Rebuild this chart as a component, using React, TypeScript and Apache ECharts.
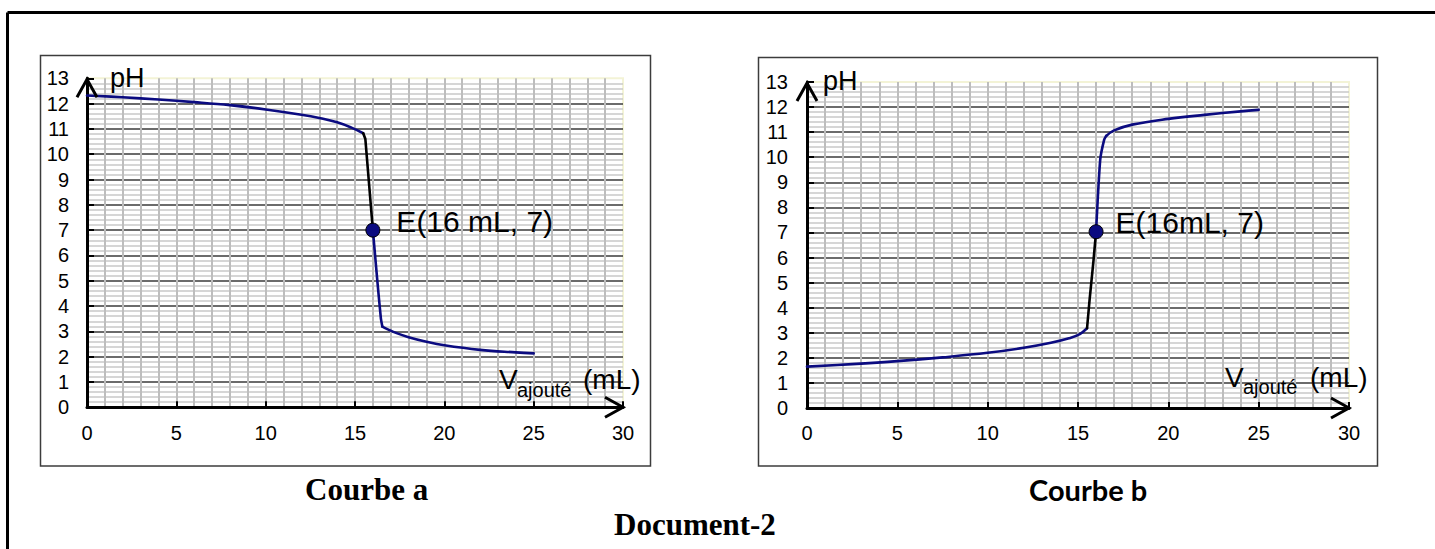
import React, { useEffect, useRef } from "react";
import * as echarts from "echarts";

// ---- data ----
const X_MIN = 0;
const X_MAX = 30;
const X_STEP = 5;
const Y_MIN = 0;
const Y_MAX = 13;
const Y_STEP = 1;

// Courbe a : pH decreasing
const curveA_before: number[][] = [
  [0, 12.32], [2, 12.25], [4, 12.16], [6, 12.06], [8, 11.94], [10, 11.77], [12, 11.56],
  [13, 11.43], [14, 11.26], [14.8, 11.05], [15.46, 10.83],
];
const curveA_steep: number[][] = [[15.46, 10.83], [15.58, 10.6], [16, 7]];
const curveA_drop: number[][] = [[16, 7], [16.25, 5.0], [16.45, 3.5], [16.53, 3.19]];
const curveA_after: number[][] = [
  [16.53, 3.19], [16.87, 3.07], [17.33, 2.93], [18, 2.77],
  [19, 2.59], [20, 2.45], [22, 2.27], [24, 2.17], [25, 2.13],
];
const pointA: number[][] = [[16, 7]];
const labelA = "E(16 mL, 7)";

// Courbe b : pH increasing
const curveB_before: number[][] = [
  [0, 1.65], [2.5, 1.75], [5, 1.87], [7.5, 2.02], [10, 2.2], [12, 2.4], [13.5, 2.6],
  [14.5, 2.78], [15.1, 2.95], [15.5, 3.18],
];
const curveB_steep: number[][] = [[15.5, 3.18], [15.64, 4.3], [15.86, 5.9], [16, 7.03]];
const curveB_rise: number[][] = [[16, 7.03], [16.23, 9.9], [16.45, 10.7], [16.56, 10.85]];
const curveB_after: number[][] = [
  [16.56, 10.85], [17, 11.07], [18, 11.3], [20, 11.53],
  [22, 11.69], [24, 11.83], [25, 11.89],
];
const pointB: number[][] = [[16, 7.03]];
const labelB = "E(16mL, 7)";

const yName = "pH";
const xNameMain = "V";
const xNameSub = "ajouté";
const xNameUnit = "(mL)";
const titleA = "Courbe a";
const titleB = "Courbe b";
const docTitle = "Document-2";

// ---- styles ----
const SANS = "'Liberation Sans', Arial, sans-serif";
const SERIF = "'Liberation Serif', 'Times New Roman', serif";
const BLUE = "#0b0b80";

function axesFor(idx: number, yLabelMargin: number, xLabelMargin: number) {
  const xAxis = {
    type: "value",
    gridIndex: idx,
    min: X_MIN,
    max: X_MAX,
    interval: X_STEP,
    axisLine: { show: true, onZero: false, lineStyle: { color: "#000", width: 3 } },
    axisTick: { show: true, inside: true, length: 6, lineStyle: { color: "#000", width: 2 } },
    axisLabel: { color: "#000", fontSize: 20, fontFamily: SANS, margin: xLabelMargin },
    splitLine: { show: true, showMinLine: false, showMaxLine: false, lineStyle: { color: "#bdbdbd", width: 2 } },
    minorTick: { show: false, splitNumber: 5 },
    minorSplitLine: { show: true, lineStyle: { color: "#bdbdbd", width: 2 } },
  };
  const yAxis = {
    type: "value",
    gridIndex: idx,
    min: Y_MIN,
    max: Y_MAX,
    interval: Y_STEP,
    axisLine: { show: true, onZero: false, lineStyle: { color: "#000", width: 3 } },
    axisTick: { show: true, inside: true, length: 7, lineStyle: { color: "#000", width: 2 } },
    axisLabel: { color: "#000", fontSize: 20, fontFamily: SANS, margin: yLabelMargin },
    splitLine: { show: true, showMinLine: false, showMaxLine: false, lineStyle: { color: "#3a3a3a", width: 1.5 } },
    minorTick: { show: false, splitNumber: 5 },
    minorSplitLine: { show: true, lineStyle: { color: "#c8c8c8", width: 1.5 } },
  };
  return { xAxis, yAxis };
}

function lineSeries(idx: number, data: number[][], color: string, smooth: number | boolean) {
  return {
    type: "line",
    xAxisIndex: idx,
    yAxisIndex: idx,
    data,
    showSymbol: false,
    symbol: "none",
    smooth,
    lineStyle: { color, width: 2.6, join: "round", cap: "round" },
    z: 3,
    silent: true,
  };
}

function pointSeries(idx: number, data: number[][], text: string, dist: number) {
  return {
    type: "scatter",
    xAxisIndex: idx,
    yAxisIndex: idx,
    data,
    symbol: "circle",
    symbolSize: 14,
    itemStyle: { color: BLUE, borderColor: "#000", borderWidth: 1, opacity: 1 },
    label: {
      show: true,
      position: "right",
      distance: dist,
      offset: [0, -9],
      formatter: () => text,
      color: "#000",
      opacity: 1,
      textBorderWidth: 0,
      fontSize: 30,
      fontFamily: SANS,
    },
    emphasis: { disabled: true },
    z: 5,
    silent: true,
  };
}

function arrowSeries(idx: number) {
  return {
    type: "custom",
    xAxisIndex: idx,
    yAxisIndex: idx,
    clip: false,
    silent: true,
    z: 6,
    data: [[X_MIN, Y_MAX, 0], [X_MAX, Y_MIN, 1]],
    renderItem: (_p: any, api: any) => {
      const p = api.coord([api.value(0), api.value(1)]);
      const dir = api.value(2);
      const pts =
        dir === 0
          ? [[p[0] - 10, p[1] + 19], [p[0], p[1] + 1], [p[0] + 10, p[1] + 19]]
          : [[p[0] - 18, p[1] - 10], [p[0], p[1]], [p[0] - 18, p[1] + 10]];
      return {
        type: "polyline",
        shape: { points: pts },
        style: { stroke: "#000", lineWidth: 3, fill: "none" },
      };
    },
  };
}

function txt(text: string, x: number, y: number, font: string, align = "left") {
  return {
    type: "text",
    x,
    y,
    silent: true,
    z: 10,
    style: {
      text,
      font,
      fill: "#000",
      textAlign: align,
      verticalAlign: "middle",
      textVerticalAlign: "middle",
    },
  };
}

export default function App() {
  const ref = useRef<HTMLDivElement>(null);

  useEffect(() => {
    document.body.style.margin = "0";
    if (!ref.current) return;
    const chart = echarts.init(ref.current, undefined, { renderer: "svg" });

    const a = axesFor(0, 18, 16);
    const b = axesFor(1, 19, 15);

    const option: any = {
      animation: false,
      backgroundColor: "#fff",
      grid: [
        { left: 87, top: 78.3, width: 536, height: 329, show: true, backgroundColor: "#fff", borderColor: "#f3f3d6", borderWidth: 2, containLabel: false },
        { left: 807, top: 82, width: 542, height: 326, show: true, backgroundColor: "#fff", borderColor: "#f3f3d6", borderWidth: 2, containLabel: false },
      ],
      xAxis: [a.xAxis, b.xAxis],
      yAxis: [a.yAxis, b.yAxis],
      series: [
        lineSeries(0, curveA_before, BLUE, 0.4),
        lineSeries(0, curveA_steep, "#000", false),
        lineSeries(0, curveA_drop, BLUE, 0.2),
        lineSeries(0, curveA_after, BLUE, 0.4),
        pointSeries(0, pointA, labelA, 16),
        arrowSeries(0),
        lineSeries(1, curveB_before, BLUE, 0.4),
        lineSeries(1, curveB_steep, "#000", false),
        lineSeries(1, curveB_rise, BLUE, 0.2),
        lineSeries(1, curveB_after, BLUE, 0.4),
        pointSeries(1, pointB, labelB, 12),
        arrowSeries(1),
      ],
      graphic: [
        // outer frame (top + left)
        { type: "line", silent: true, shape: { x1: 7.5, y1: 12.5, x2: 1435, y2: 12.5 }, style: { stroke: "#000", lineWidth: 3 } },
        { type: "line", silent: true, shape: { x1: 7.5, y1: 12.5, x2: 7.5, y2: 549 }, style: { stroke: "#000", lineWidth: 3 } },
        // panels
        { type: "rect", silent: true, shape: { x: 40.5, y: 55.5, width: 610, height: 410.5 }, style: { fill: "none", stroke: "#3c3c3c", lineWidth: 1.5 } },
        { type: "rect", silent: true, shape: { x: 758.5, y: 57.5, width: 619, height: 408.5 }, style: { fill: "none", stroke: "#3c3c3c", lineWidth: 1.5 } },
        // axis names, chart a
        txt(yName, 110, 78, `27px ${SANS}`),
        txt(xNameMain, 499, 379, `28px ${SANS}`),
        txt(xNameSub, 517, 390, `20px ${SANS}`),
        txt(xNameUnit, 583, 379, `28px ${SANS}`),
        // axis names, chart b
        txt(yName, 823, 80.5, `27px ${SANS}`),
        txt(xNameMain, 1225, 377, `28px ${SANS}`),
        txt(xNameSub, 1243, 387, `20px ${SANS}`),
        txt(xNameUnit, 1310, 377, `28px ${SANS}`),
        // titles
        txt(titleA, 305, 489.5, `bold 31px ${SERIF}`),
        txt(titleB, 1029, 489.5, `bold 29px Lato, ${SANS}`),
        txt(docTitle, 614, 524, `bold 31px ${SERIF}`),
      ],
    };

    chart.setOption(option);
    return () => chart.dispose();
  }, []);

  return <div ref={ref} style={{ width: 1435, height: 549 }} />;
}
